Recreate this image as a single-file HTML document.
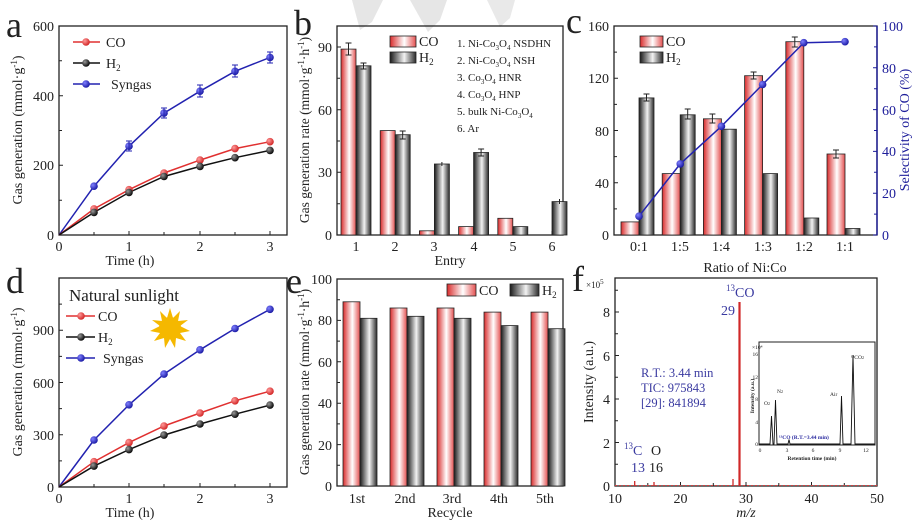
<!DOCTYPE html>
<html><head><meta charset="utf-8"><style>
html,body{margin:0;padding:0;background:#fff}
svg{display:block;font-family:"Liberation Serif",serif}
</style></head><body>
<svg width="922" height="522" viewBox="0 0 922 522" xmlns="http://www.w3.org/2000/svg">
<defs>
<linearGradient id="gr" x1="0" x2="1" y1="0" y2="0"><stop offset="0" stop-color="#d92b2b"/><stop offset="0.55" stop-color="#fff"/><stop offset="1" stop-color="#e45050"/></linearGradient>
<linearGradient id="gk" x1="0" x2="1" y1="0" y2="0"><stop offset="0" stop-color="#1a1a1a"/><stop offset="0.55" stop-color="#f2f2f2"/><stop offset="1" stop-color="#2a2a2a"/></linearGradient>
<radialGradient id="rb" cx="0.35" cy="0.35" r="0.7"><stop offset="0" stop-color="#8080ff"/><stop offset="1" stop-color="#1515a0"/></radialGradient>
<radialGradient id="rr" cx="0.35" cy="0.35" r="0.7"><stop offset="0" stop-color="#ff9a9a"/><stop offset="1" stop-color="#d02020"/></radialGradient>
<radialGradient id="rk" cx="0.35" cy="0.35" r="0.7"><stop offset="0" stop-color="#999"/><stop offset="1" stop-color="#000"/></radialGradient>
</defs>
<!-- watermark -->
<polygon points="352,0 383,0 372,22 360,30" fill="#e6e6e6"/>
<polygon points="410,0 447,0 440,20 428,32" fill="#e6e6e6"/>
<polygon points="487,0 515,0 510,18 500,27" fill="#e9e9e9"/>

<g font-size="14" fill="#222">
<!-- ========== Panel a ========== -->
<text x="6" y="37" font-size="36">a</text>
<rect x="59" y="26" width="228" height="209" fill="none" stroke="#222" stroke-width="1.3"/>
<g stroke="#222" stroke-width="1">
<path d="M59 235h4M59 200.2h3M59 165.3h4M59 130.5h3M59 95.7h4M59 60.8h3M59 26h4"/>
<path d="M59 235v-4M94 235v-3M129 235v-4M164 235v-3M200 235v-4M235 235v-3M270 235v-4"/>
</g>
<g text-anchor="end"><text x="54" y="240">0</text><text x="54" y="170">200</text><text x="54" y="101">400</text><text x="54" y="31">600</text></g>
<g text-anchor="middle"><text x="59" y="251">0</text><text x="129" y="251">1</text><text x="200" y="251">2</text><text x="270" y="251">3</text></g>
<text x="130" y="265" text-anchor="middle">Time (h)</text>
<text transform="translate(22,130) rotate(-90)" text-anchor="middle" font-size="14">Gas generation (mmol·g<tspan font-size="9" dy="-5">-1</tspan><tspan dy="5">)</tspan></text>
<polyline points="59,235 94,186.2 129,146.2 164,113.1 200,91.2 235,71.3 270,57.4" fill="none" stroke="#2222b0" stroke-width="1.5"/>
<polyline points="59,235 94,208.9 129,189.7 164,173 200,160.1 235,148.6 270,141.7" fill="none" stroke="#e03030" stroke-width="1.5"/>
<polyline points="59,235 94,212.4 129,192.5 164,176.5 200,166.4 235,157.7 270,150.4" fill="none" stroke="#111" stroke-width="1.5"/>
<g fill="url(#rb)"><circle cx="94" cy="186.2" r="3.8"/><circle cx="129" cy="146.2" r="3.8"/><circle cx="164" cy="113.1" r="3.8"/><circle cx="200" cy="91.2" r="3.8"/><circle cx="235" cy="71.3" r="3.8"/><circle cx="270" cy="57.4" r="3.8"/></g>
<g fill="url(#rr)"><circle cx="94" cy="208.9" r="3.8"/><circle cx="129" cy="189.7" r="3.8"/><circle cx="164" cy="173" r="3.8"/><circle cx="200" cy="160.1" r="3.8"/><circle cx="235" cy="148.6" r="3.8"/><circle cx="270" cy="141.7" r="3.8"/></g>
<g fill="url(#rk)"><circle cx="94" cy="212.4" r="3.8"/><circle cx="129" cy="192.5" r="3.8"/><circle cx="164" cy="176.5" r="3.8"/><circle cx="200" cy="166.4" r="3.8"/><circle cx="235" cy="157.7" r="3.8"/><circle cx="270" cy="150.4" r="3.8"/></g>
<g stroke="#2222b0" stroke-width="1"><path d="M129 141v10M164 108v10M200 85v12M235 65v12M270 52v11M126 141h6M126 151h6M161 108h6M161 118h6M197 85h6M197 97h6M232 65h6M232 77h6M267 52h6M267 63h6"/></g>
<g stroke-width="1.5"><path d="M73 42h27" stroke="#e03030"/><path d="M73 63h27" stroke="#111"/><path d="M73 84h27" stroke="#2222b0"/></g>
<circle cx="86" cy="42" r="3.8" fill="url(#rr)"/><circle cx="86" cy="63" r="3.8" fill="url(#rk)"/><circle cx="86" cy="84" r="3.8" fill="url(#rb)"/>
<text x="106" y="47">CO</text><text x="106" y="68">H<tspan font-size="9" dy="3">2</tspan></text><text x="111" y="89">Syngas</text>

<!-- ========== Panel b ========== -->
<text x="294" y="35" font-size="36">b</text>
<rect x="337" y="26" width="226" height="209" fill="none" stroke="#222" stroke-width="1.3"/>
<g stroke="#222"><path d="M337 235h4M337 203.7h3M337 172.3h4M337 141h3M337 109.7h4M337 78.3h3M337 47h4"/>
<path d="M356 235v-4M395.2 235v-4M434.4 235v-4M473.6 235v-4M512.8 235v-4M552 235v-4"/></g>
<g text-anchor="end"><text x="332" y="240">0</text><text x="332" y="177">30</text><text x="332" y="115">60</text><text x="332" y="52">90</text></g>
<g text-anchor="middle"><text x="356" y="251">1</text><text x="395" y="251">2</text><text x="434" y="251">3</text><text x="474" y="251">4</text><text x="513" y="251">5</text><text x="552" y="251">6</text></g>
<text x="450" y="265" text-anchor="middle">Entry</text>
<text transform="translate(309,130) rotate(-90)" text-anchor="middle" font-size="13.5">Gas generation rate (mmol·g<tspan font-size="9" dy="-5">-1</tspan><tspan dy="5">·h</tspan><tspan font-size="9" dy="-5">-1</tspan><tspan dy="5">)</tspan></text>
<g stroke="#222" stroke-width="0.8">
<rect x="341" y="49.1" width="15" height="185.9" fill="url(#gr)"/><rect x="356" y="65.8" width="15" height="169.2" fill="url(#gk)"/>
<rect x="380.2" y="130.6" width="15" height="104.4" fill="url(#gr)"/><rect x="395.2" y="134.7" width="15" height="100.3" fill="url(#gk)"/>
<rect x="419.4" y="230.8" width="15" height="4.2" fill="url(#gr)"/><rect x="434.4" y="164" width="15" height="71" fill="url(#gk)"/>
<rect x="458.6" y="226.6" width="15" height="8.4" fill="url(#gr)"/><rect x="473.6" y="152.5" width="15" height="82.5" fill="url(#gk)"/>
<rect x="497.8" y="218.3" width="15" height="16.7" fill="url(#gr)"/><rect x="512.8" y="226.6" width="15" height="8.4" fill="url(#gk)"/>
<rect x="552" y="201.6" width="15" height="33.4" fill="url(#gk)"/>
</g>
<g stroke="#222" stroke-width="1"><path d="M348.5 43v12M345.5 43h6M345.5 55h6M363.5 63v6M360.5 63h6M360.5 69h6M402.7 131v8M399.7 131h6M399.7 139h6M441.9 162v4M481.1 149v7M478.1 149h6M478.1 156h6M559.5 199v5"/></g>
<rect x="390" y="36" width="26" height="11" fill="url(#gr)" stroke="#222" stroke-width="0.8"/><text x="419" y="46">CO</text>
<rect x="390" y="52" width="26" height="11" fill="url(#gk)" stroke="#222" stroke-width="0.8"/><text x="419" y="62">H<tspan font-size="9" dy="3">2</tspan></text>
<g font-size="11"><text x="457" y="47">1. Ni-Co<tspan font-size="7" dy="3">3</tspan><tspan dy="-3">O</tspan><tspan font-size="7" dy="3">4</tspan><tspan dy="-3"> NSDHN</tspan></text>
<text x="457" y="64">2. Ni-Co<tspan font-size="7" dy="3">3</tspan><tspan dy="-3">O</tspan><tspan font-size="7" dy="3">4</tspan><tspan dy="-3"> NSH</tspan></text>
<text x="457" y="81">3. Co<tspan font-size="7" dy="3">3</tspan><tspan dy="-3">O</tspan><tspan font-size="7" dy="3">4</tspan><tspan dy="-3"> HNR</tspan></text>
<text x="457" y="98">4. Co<tspan font-size="7" dy="3">3</tspan><tspan dy="-3">O</tspan><tspan font-size="7" dy="3">4</tspan><tspan dy="-3"> HNP</tspan></text>
<text x="457" y="115">5. bulk Ni-Co<tspan font-size="7" dy="3">3</tspan><tspan dy="-3">O</tspan><tspan font-size="7" dy="3">4</tspan></text>
<text x="457" y="132">6. Ar</text></g>

<!-- ========== Panel c ========== -->
<text x="566" y="33" font-size="36">c</text>
<rect x="614" y="26" width="263" height="209" fill="none" stroke="#222" stroke-width="1.3"/>
<path d="M877 26V235" stroke="#1d1d9a" stroke-width="1.4"/>
<g stroke="#222"><path d="M614 235h4M614 208.9h3M614 182.75h4M614 156.6h3M614 130.5h4M614 104.4h3M614 78.25h4M614 52.1h3M614 26h4"/>
<path d="M639 235v-4M680.2 235v-4M721.4 235v-4M762.6 235v-4M803.8 235v-4M845 235v-4"/></g>
<g stroke="#1d1d9a"><path d="M877 235h-4M877 193.2h-4M877 151.4h-4M877 109.6h-4M877 67.8h-4M877 26h-4M877 214.1h-3M877 172.3h-3M877 130.5h-3M877 88.7h-3M877 46.9h-3"/></g>
<g text-anchor="end"><text x="609" y="240">0</text><text x="609" y="188">40</text><text x="609" y="136">80</text><text x="609" y="83">120</text><text x="609" y="31">160</text></g>
<g fill="#1d1d9a"><text x="882" y="240">0</text><text x="882" y="198">20</text><text x="882" y="156">40</text><text x="882" y="115">60</text><text x="882" y="73">80</text><text x="882" y="31">100</text>
<text transform="translate(909,130) rotate(-90)" text-anchor="middle">Selectivity of CO (%)</text></g>
<g text-anchor="middle"><text x="639" y="251">0:1</text><text x="680" y="251">1:5</text><text x="721" y="251">1:4</text><text x="763" y="251">1:3</text><text x="804" y="251">1:2</text><text x="845" y="251">1:1</text></g>
<text x="745" y="272" text-anchor="middle">Ratio of Ni:Co</text>
<g stroke="#222" stroke-width="0.8">
<rect x="621" y="221.9" width="18" height="13.1" fill="url(#gr)"/><rect x="639" y="97.9" width="15" height="137.1" fill="url(#gk)"/>
<rect x="662.2" y="173.6" width="18" height="61.4" fill="url(#gr)"/><rect x="680.2" y="114.8" width="15" height="120.2" fill="url(#gk)"/>
<rect x="703.4" y="118.8" width="18" height="116.2" fill="url(#gr)"/><rect x="721.4" y="129.2" width="15" height="105.8" fill="url(#gk)"/>
<rect x="744.6" y="75.7" width="18" height="159.3" fill="url(#gr)"/><rect x="762.6" y="173.6" width="15" height="61.4" fill="url(#gk)"/>
<rect x="785.8" y="41.7" width="18" height="193.3" fill="url(#gr)"/><rect x="803.8" y="218" width="15" height="17" fill="url(#gk)"/>
<rect x="827" y="154" width="18" height="81" fill="url(#gr)"/><rect x="845" y="228.5" width="15" height="6.5" fill="url(#gk)"/>
</g>
<g stroke="#222"><path d="M646.5 94v7M643.5 94h6M643.5 101h6M687.7 109v10M684.7 109h6M684.7 119h6M712.4 114v9M709.4 114h6M709.4 123h6M753.6 72v7M750.6 72h6M750.6 79h6M794.8 37v10M791.8 37h6M791.8 47h6M836 150v8M833 150h6M833 158h6"/></g>
<polyline points="639,216.2 680.2,163.9 721.4,126.3 762.6,84.5 803.8,42.7 845,41.7" fill="none" stroke="#2222b0" stroke-width="1.5"/>
<g fill="url(#rb)"><circle cx="639" cy="216.2" r="3.8"/><circle cx="680.2" cy="163.9" r="3.8"/><circle cx="721.4" cy="126.3" r="3.8"/><circle cx="762.6" cy="84.5" r="3.8"/><circle cx="803.8" cy="42.7" r="3.8"/><circle cx="845" cy="41.7" r="3.8"/></g>
<rect x="640" y="36" width="23" height="11" fill="url(#gr)" stroke="#222" stroke-width="0.8"/><text x="666" y="46">CO</text>
<rect x="640" y="52" width="23" height="11" fill="url(#gk)" stroke="#222" stroke-width="0.8"/><text x="666" y="62">H<tspan font-size="9" dy="3">2</tspan></text>

<!-- ========== Panel d ========== -->
<text x="6" y="293" font-size="36">d</text>
<rect x="59" y="278" width="228" height="209" fill="none" stroke="#222" stroke-width="1.3"/>
<g stroke="#222"><path d="M59 487h4M59 460.9h3M59 434.8h4M59 408.6h3M59 382.5h4M59 356.4h3M59 330.3h4M59 304.1h3"/>
<path d="M59 487v-4M94 487v-3M129 487v-4M164 487v-3M200 487v-4M235 487v-3M270 487v-4"/></g>
<g text-anchor="end"><text x="54" y="492">0</text><text x="54" y="440">300</text><text x="54" y="388">600</text><text x="54" y="335">900</text></g>
<g text-anchor="middle"><text x="59" y="503">0</text><text x="129" y="503">1</text><text x="200" y="503">2</text><text x="270" y="503">3</text></g>
<text x="130" y="517" text-anchor="middle">Time (h)</text>
<text transform="translate(22,382) rotate(-90)" text-anchor="middle">Gas generation (mmol·g<tspan font-size="9" dy="-5">-1</tspan><tspan dy="5">)</tspan></text>
<text x="69" y="301" font-size="17">Natural sunlight</text>
<g transform="translate(170,328)" fill="#f5b800">
<circle r="11"/>
<polygon points="0,-20 3,-10 10,-17 8,-7 18,-8 10,-2 20,3 10,5 16,13 6,10 5,20 0,11 -5,20 -6,10 -16,13 -10,5 -20,3 -10,-2 -18,-8 -8,-7 -10,-17 -3,-10"/>
</g>
<polyline points="59,487 94,440 129,404.8 164,374.1 200,349.8 235,328.5 270,309.3" fill="none" stroke="#2222b0" stroke-width="1.5"/>
<polyline points="59,487 94,461.7 129,442.6 164,426 200,413 235,400.8 270,391.2" fill="none" stroke="#e03030" stroke-width="1.5"/>
<polyline points="59,487 94,466.1 129,449.6 164,435.1 200,424 235,414.2 270,405.1" fill="none" stroke="#111" stroke-width="1.5"/>
<g fill="url(#rb)"><circle cx="94" cy="440" r="3.8"/><circle cx="129" cy="404.8" r="3.8"/><circle cx="164" cy="374.1" r="3.8"/><circle cx="200" cy="349.8" r="3.8"/><circle cx="235" cy="328.5" r="3.8"/><circle cx="270" cy="309.3" r="3.8"/></g>
<g fill="url(#rr)"><circle cx="94" cy="461.7" r="3.8"/><circle cx="129" cy="442.6" r="3.8"/><circle cx="164" cy="426" r="3.8"/><circle cx="200" cy="413" r="3.8"/><circle cx="235" cy="400.8" r="3.8"/><circle cx="270" cy="391.2" r="3.8"/></g>
<g fill="url(#rk)"><circle cx="94" cy="466.1" r="3.8"/><circle cx="129" cy="449.6" r="3.8"/><circle cx="164" cy="435.1" r="3.8"/><circle cx="200" cy="424" r="3.8"/><circle cx="235" cy="414.2" r="3.8"/><circle cx="270" cy="405.1" r="3.8"/></g>
<g stroke-width="1.5"><path d="M66 316h29" stroke="#e03030"/><path d="M66 337h29" stroke="#111"/><path d="M66 358h29" stroke="#2222b0"/></g>
<circle cx="81" cy="316" r="3.8" fill="url(#rr)"/><circle cx="81" cy="337" r="3.8" fill="url(#rk)"/><circle cx="81" cy="358" r="3.8" fill="url(#rb)"/>
<text x="98" y="321">CO</text><text x="98" y="342">H<tspan font-size="9" dy="3">2</tspan></text><text x="103" y="363">Syngas</text>

<!-- ========== Panel e ========== -->
<text x="286" y="293" font-size="36">e</text>
<rect x="337" y="279" width="226" height="207" fill="none" stroke="#222" stroke-width="1.3"/>
<g stroke="#222"><path d="M337 486h4M337 465.3h3M337 444.6h4M337 423.9h3M337 403.2h4M337 382.5h3M337 361.8h4M337 341.1h3M337 320.4h4M337 299.7h3M337 279h4"/>
<path d="M360 486v-4M407 486v-4M454 486v-4M501 486v-4M548 486v-4"/></g>
<g text-anchor="end"><text x="332" y="491">0</text><text x="332" y="450">20</text><text x="332" y="408">40</text><text x="332" y="367">60</text><text x="332" y="325">80</text><text x="332" y="284">100</text></g>
<g text-anchor="middle"><text x="357" y="503">1st</text><text x="405" y="503">2nd</text><text x="452" y="503">3rd</text><text x="499" y="503">4th</text><text x="545" y="503">5th</text></g>
<text x="450" y="517" text-anchor="middle">Recycle</text>
<text transform="translate(309,382) rotate(-90)" text-anchor="middle" font-size="13.5">Gas generation rate (mmol·g<tspan font-size="9" dy="-5">-1</tspan><tspan dy="5">·h</tspan><tspan font-size="9" dy="-5">-1</tspan><tspan dy="5">)</tspan></text>
<g stroke="#222" stroke-width="0.8">
<rect x="343" y="301.8" width="17" height="184.2" fill="url(#gr)"/><rect x="360" y="318.3" width="17" height="167.7" fill="url(#gk)"/>
<rect x="390" y="308" width="17" height="178" fill="url(#gr)"/><rect x="407" y="316.3" width="17" height="169.7" fill="url(#gk)"/>
<rect x="437" y="308" width="17" height="178" fill="url(#gr)"/><rect x="454" y="318.3" width="17" height="167.7" fill="url(#gk)"/>
<rect x="484" y="312.1" width="17" height="173.9" fill="url(#gr)"/><rect x="501" y="325.6" width="17" height="160.4" fill="url(#gk)"/>
<rect x="531" y="312.1" width="17" height="173.9" fill="url(#gr)"/><rect x="548" y="328.7" width="17" height="157.3" fill="url(#gk)"/>
</g>
<rect x="447" y="284" width="29" height="12" fill="url(#gr)" stroke="#222" stroke-width="0.8"/><text x="479" y="295">CO</text>
<rect x="510" y="284" width="29" height="12" fill="url(#gk)" stroke="#222" stroke-width="0.8"/><text x="542" y="295">H<tspan font-size="9" dy="3">2</tspan></text>

<!-- ========== Panel f ========== -->
<text x="572" y="291" font-size="36">f</text>
<rect x="615" y="278" width="262" height="208" fill="none" stroke="#222" stroke-width="1.3"/>
<g stroke="#222"><path d="M615 486h4M615 464.3h3M615 442.5h4M615 420.8h3M615 399h4M615 377.3h3M615 355.5h4M615 333.8h3M615 312h4M615 290.3h3"/>
<path d="M615 486v-4M647.8 486v-3M680.5 486v-4M713.3 486v-3M746 486v-4M778.8 486v-3M811.5 486v-4M844.3 486v-3M877 486v-4"/></g>
<g text-anchor="end"><text x="610" y="491">0</text><text x="610" y="448">2</text><text x="610" y="404">4</text><text x="610" y="361">6</text><text x="610" y="317">8</text></g>
<text x="586" y="288" font-size="9">×10<tspan font-size="7" dy="-4">5</tspan></text>
<g text-anchor="middle"><text x="615" y="503">10</text><text x="680.5" y="503">20</text><text x="746" y="503">30</text><text x="811.5" y="503">40</text><text x="877" y="503">50</text></g>
<text x="746" y="517" text-anchor="middle" font-style="italic">m/z</text>
<text transform="translate(593,382) rotate(-90)" text-anchor="middle">Intensity (a.u.)</text>
<path d="M615 485.5H877" stroke="#d04040" stroke-width="1" stroke-dasharray="2,2"/>
<path d="M739.5 486V302" stroke="#d02828" stroke-width="2.2"/>
<path d="M733 486v-7M634.7 486v-5M654 486v-4" stroke="#d02828" stroke-width="1.3"/>
<g fill="#3a3aa0">
<text x="726" y="297"><tspan font-size="9" dy="-6">13</tspan><tspan dy="6">CO</tspan></text>
<text x="721" y="315">29</text>
<g font-size="12.5"><text x="641" y="377">R.T.: 3.44 min</text><text x="641" y="392">TIC: 975843</text><text x="641" y="407">[29]: 841894</text></g>
<text x="624" y="455"><tspan font-size="9" dy="-6">13</tspan><tspan dy="6">C</tspan></text>
<text x="631" y="472">13</text>
</g>
<text x="651" y="455">O</text><text x="649" y="472">16</text>
<!-- inset -->
<rect x="759" y="342" width="116" height="103" fill="#fff" stroke="#222" stroke-width="1"/>
<g font-size="5.5" fill="#222"><text x="752" y="349">×10⁴</text>
<g text-anchor="end"><text x="758" y="446">0</text><text x="758" y="424">4</text><text x="758" y="401">8</text><text x="758" y="379">12</text><text x="758" y="356">16</text></g>
<g text-anchor="middle"><text x="760" y="452">0</text><text x="787" y="452">3</text><text x="813" y="452">6</text><text x="840" y="452">9</text><text x="866" y="452">12</text></g>
<text x="812" y="460" text-anchor="middle" font-weight="bold">Retention time (min)</text>
<text transform="translate(754,396) rotate(-90)" text-anchor="middle" font-weight="bold">Intensity (a.u.)</text>
<text x="764" y="405">O<tspan font-size="4">2</tspan></text><text x="777" y="393">N<tspan font-size="4">2</tspan></text>
<text x="830" y="396">Air</text><text x="851" y="359">¹³CO<tspan font-size="4">2</tspan></text>
<text x="779" y="439" fill="#2a2aa0" font-weight="bold">¹³CO (R.T.=3.44 min)</text>
</g>
<polyline points="759,444 770,444 771.5,416 773,444 774,444 775.5,400 777,444 788,444 789,439.5 790,444 840,444 841.5,396 843,444 851,444 853,355 855,444 875,444" fill="none" stroke="#111" stroke-width="0.9"/>
</g>
</svg>
</body></html>
